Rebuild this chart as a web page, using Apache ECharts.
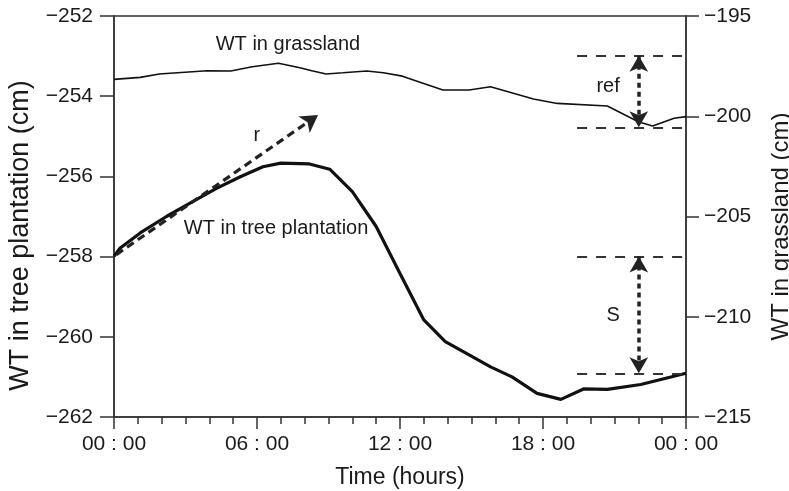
<!DOCTYPE html>
<html><head><meta charset="utf-8">
<script src="https://cdn.jsdelivr.net/npm/echarts@6/dist/echarts.min.js"></script>
<style>html,body{margin:0;padding:0;background:#fff}#c{width:789px;height:491px}</style>
</head><body><div id="c"></div>
<script>
// Time in hours from 00:00
var xTickLabels = ['00 : 00', '06 : 00', '12 : 00', '18 : 00', '00 : 00'];
// WT in tree plantation (left axis, cm)
var treeHours = [0, 0.25, 1.1, 2.2, 3.3, 4.3, 5.3, 6.25, 7.0, 8.2, 9.05, 10.0, 11.0, 12.0, 13.0, 13.9, 14.9, 15.8, 16.7, 17.75, 18.75, 19.7, 20.7, 22.1, 24];
var treeValues = [-257.99, -257.79, -257.41, -257.0, -256.63, -256.3, -256.01, -255.76, -255.67, -255.69, -255.82, -256.38, -257.25, -258.42, -259.58, -260.12, -260.45, -260.75, -261.0, -261.41, -261.56, -261.3, -261.31, -261.19, -260.91];
// WT in grassland (right axis, cm)
var grassHours = [0, 1.1, 1.9, 3.9, 4.9, 5.8, 6.9, 7.8, 8.3, 8.9, 9.6, 10.6, 11.3, 12.1, 13.8, 14.9, 15.8, 17.6, 18.6, 20.7, 22.0, 22.6, 23.5, 24];
var grassValues = [-198.16, -198.06, -197.89, -197.73, -197.74, -197.53, -197.36, -197.58, -197.73, -197.89, -197.83, -197.74, -197.83, -198.0, -198.69, -198.69, -198.53, -199.14, -199.36, -199.49, -200.27, -200.49, -200.1, -200.02];
// annotation r: [hour, left value] start and end
var rStart = [0.1, -257.95];
var rEnd = [8.56, -254.47];
// ref span (right axis) and S span (left axis)
var refLevels = [-196.98, -200.55];
var sLevels = [-258.0, -260.91];
var spanHours = [19.43, 24];
var arrowHour = 22.02;
// text annotations [hour, left value, text]
var notes = [
  [7.3, -252.72, 'WT in grassland'],
  [6.8, -257.29, 'WT in tree plantation'],
  [5.99, -254.97, 'r'],
  [20.73, -253.76, 'ref'],
  [20.94, -259.48, 'S']
];

var FONT = 'Liberation Sans, Arial, sans-serif';
var INK = '#1a1a1a';
function minus(v){ return String(v).replace('-', '\u2212'); }
function pairs(xs, ys){ return xs.map(function(x, i){ return [x, ys[i]]; }); }

var dashH = {color: '#333', width: 2, type: [10, 9]};
var dashV = {color: '#222', width: 3.5, type: [5, 4]};
var headV = [14, 16];

var chart = echarts.init(document.getElementById('c'), null, {renderer: 'canvas'});
chart.setOption({
  animation: false,
  backgroundColor: '#fff',
  textStyle: {fontFamily: FONT},
  grid: {left: 114, right: 103, top: 16, bottom: 74, containLabel: false, outerBoundsMode: 'none',
    show: true, borderColor: '#333', borderWidth: 1.5, backgroundColor: 'transparent'},
  xAxis: {
    type: 'value', min: 0, max: 24, interval: 6,
    name: 'Time (hours)', nameLocation: 'middle', nameGap: 49,
    nameTextStyle: {fontSize: 23, color: INK, fontFamily: FONT},
    axisLine: {show: true, lineStyle: {color: '#333', width: 1.5}},
    axisTick: {show: true, length: 12, lineStyle: {color: '#333', width: 1.5}},
    minorTick: {show: true, splitNumber: 6, length: 7, lineStyle: {color: '#333', width: 1.5}},
    splitLine: {show: false},
    axisLabel: {fontSize: 21, color: INK, margin: 17, fontFamily: FONT,
      formatter: function(v){ return xTickLabels[Math.round(v / 6)]; }}
  },
  yAxis: [{
    type: 'value', min: -262, max: -252, interval: 2, position: 'left',
    name: 'WT in tree plantation (cm)', nameLocation: 'middle', nameGap: 80, nameRotate: 90,
    nameTextStyle: {fontSize: 27, color: INK, fontFamily: FONT, padding: [0, 38, 0, 0]},
    axisLine: {show: true, lineStyle: {color: '#333', width: 1.5}},
    axisTick: {show: true, length: 14, lineStyle: {color: '#333', width: 1.5}},
    splitLine: {show: false},
    axisLabel: {fontSize: 21, color: INK, margin: 21, fontFamily: FONT, formatter: minus}
  }, {
    type: 'value', min: -215, max: -195, interval: 5, position: 'right',
    name: 'WT in grassland (cm)', nameLocation: 'middle', nameGap: 83, nameRotate: 90,
    nameTextStyle: {fontSize: 24, color: INK, fontFamily: FONT, padding: [0, 20, 0, 0]},
    axisLine: {show: true, lineStyle: {color: '#333', width: 1.5}},
    axisTick: {show: true, length: 13, lineStyle: {color: '#333', width: 1.5}},
    splitLine: {show: false},
    axisLabel: {fontSize: 21, color: INK, margin: 18, fontFamily: FONT, formatter: minus}
  }],
  series: [{
    name: 'WT in tree plantation', type: 'line', yAxisIndex: 0,
    data: pairs(treeHours, treeValues), showSymbol: false, symbol: 'none',
    lineStyle: {color: '#111', width: 3.2}, silent: true,
    markLine: {
      silent: true, animation: false, label: {show: false},
      data: [
        [{coord: rStart, symbol: 'none', lineStyle: {color: '#222', width: 3.2, type: [8, 5]}},
         {coord: rEnd, symbol: 'arrow', symbolSize: [15, 17]}],
        [{coord: [spanHours[0], sLevels[0]], symbol: 'none', lineStyle: dashH}, {coord: [spanHours[1], sLevels[0]], symbol: 'none'}],
        [{coord: [spanHours[0], sLevels[1]], symbol: 'none', lineStyle: dashH}, {coord: [spanHours[1], sLevels[1]], symbol: 'none'}],
        [{coord: [arrowHour, sLevels[0]], symbol: 'arrow', symbolSize: headV, lineStyle: dashV},
         {coord: [arrowHour, sLevels[1]], symbol: 'arrow', symbolSize: headV}]
      ]
    },
    markPoint: {
      silent: true, symbol: 'circle', symbolSize: 1, itemStyle: {color: 'rgba(0,0,0,0)'},
      label: {show: true, position: 'inside', fontSize: 20, color: INK, fontFamily: FONT,
        formatter: function(p){ return p.name; }},
      data: notes.map(function(n){ return {name: n[2], coord: [n[0], n[1]]}; })
    }
  }, {
    name: 'WT in grassland', type: 'line', yAxisIndex: 1,
    data: pairs(grassHours, grassValues), showSymbol: false, symbol: 'none',
    lineStyle: {color: '#111', width: 1.6}, silent: true,
    markLine: {
      silent: true, animation: false, label: {show: false},
      data: [
        [{coord: [spanHours[0], refLevels[0]], symbol: 'none', lineStyle: dashH}, {coord: [spanHours[1], refLevels[0]], symbol: 'none'}],
        [{coord: [spanHours[0], refLevels[1]], symbol: 'none', lineStyle: dashH}, {coord: [spanHours[1], refLevels[1]], symbol: 'none'}],
        [{coord: [arrowHour, refLevels[0]], symbol: 'arrow', symbolSize: headV, lineStyle: dashV},
         {coord: [arrowHour, refLevels[1]], symbol: 'arrow', symbolSize: headV}]
      ]
    }
  }]
});
</script></body></html>
